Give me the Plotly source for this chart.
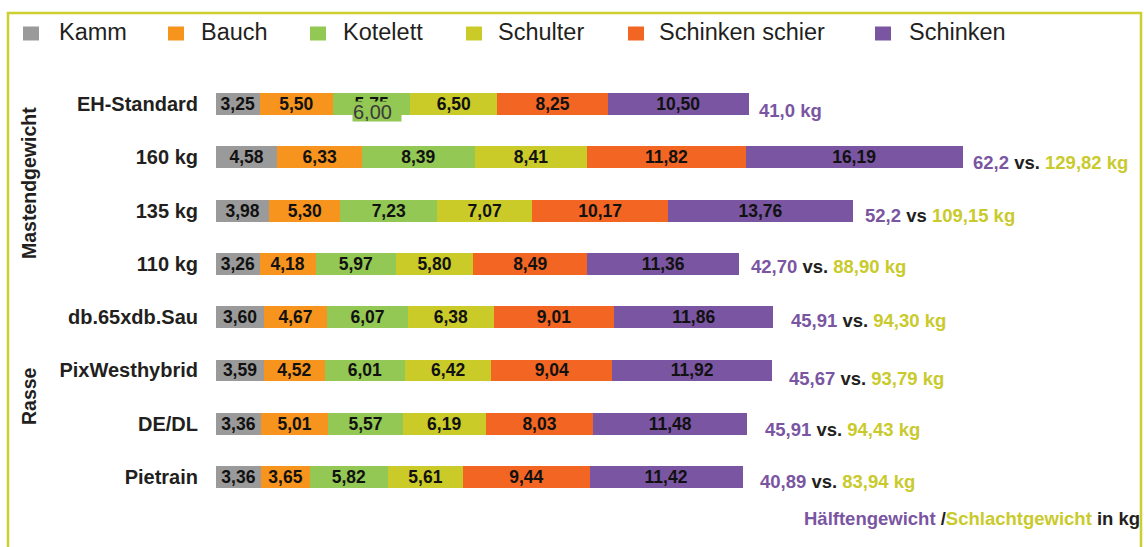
import plotly.graph_objects as go

# --- data -------------------------------------------------------------
categories = ["EH-Standard", "160 kg", "135 kg", "110 kg",
              "db.65xdb.Sau", "PixWesthybrid", "DE/DL", "Pietrain"]
series_names = ["Kamm", "Bauch", "Kotelett", "Schulter", "Schinken schier", "Schinken"]

kamm = [3.25, 4.58, 3.98, 3.26, 3.60, 3.59, 3.36, 3.36]
bauch = [5.50, 6.33, 5.30, 4.18, 4.67, 4.52, 5.01, 3.65]
kotelett = [5.75, 8.39, 7.23, 5.97, 6.07, 6.01, 5.57, 5.82]
schulter = [6.50, 8.41, 7.07, 5.80, 6.38, 6.42, 6.19, 5.61]
schinken_schier = [8.25, 11.82, 10.17, 8.49, 9.01, 9.04, 8.03, 9.44]
schinken = [10.50, 16.19, 13.76, 11.36, 11.86, 11.92, 11.48, 11.42]

# corrected Kotelett value pasted over the EH-Standard bar
kotelett_eh_corrected = 6.00

half_weight = ["41,0", "62,2", "52,2", "42,70", "45,91", "45,67", "45,91", "40,89"]
vs_word = [None, "vs.", "vs", "vs.", "vs.", "vs.", "vs.", "vs."]
carcass_weight = [None, "129,82", "109,15", "88,90", "94,30", "93,79", "94,43", "83,94"]

# --- styling ------------------------------------------------------------
colors = ["#9A9A9A", "#F7941D", "#92C853", "#CACB28", "#F26522", "#7A55A1"]
purple_txt = "#7A55A1"
yellow_txt = "#C9CA2B"
dark = "#231F20"
frame_col = "#CDCF2E"
FONT = "Liberation Sans, Arial, sans-serif"

W, H = 1144, 547
def px(x):
    return x / W
def py(y):
    return 1 - y / H

X0_PX = 216          # pixel position of x = 0
PX_PER_UNIT = 13.4
X_MAX = 68.0
ROW0_PX, ROW_STEP = 104.0, 53.29

values = [kamm, bauch, kotelett, schulter, schinken_schier, schinken]
totals = [sum(v[i] for v in values) for i in range(len(categories))]

fig = go.Figure()
for name, vals, col in zip(series_names, values, colors):
    fig.add_trace(go.Bar(
        y=categories, x=vals, name=name, orientation="h",
        marker=dict(color=col, line=dict(width=0)),
        width=0.41,
        texttemplate="<b>%{x:.2f}</b>",
        textposition="inside", insidetextanchor="middle",
        constraintext="none",
        textfont=dict(family=FONT, size=17.5, color="#111111"),
        showlegend=False, hoverinfo="skip",
    ))

annotations = []
shapes = []

# right-hand weight labels
xshift = [8, 8, 10, 10, 16, 15, 16, 15]
ydown = [7, 5, 5, 3, 3, 8, 6, 4]
for i, cat in enumerate(categories):
    if carcass_weight[i] is None:
        txt = f"<b><span style='color:{purple_txt}'>{half_weight[i]} kg</span></b>"
    else:
        txt = (f"<b><span style='color:{purple_txt}'>{half_weight[i]}</span> "
               f"<span style='color:{dark}'>{vs_word[i]}</span> "
               f"<span style='color:{yellow_txt}'>{carcass_weight[i]} kg</span></b>")
    annotations.append(dict(
        x=totals[i], y=cat, xref="x", yref="y", text=txt, showarrow=False,
        xanchor="left", yanchor="middle", xshift=xshift[i], yshift=-ydown[i],
        font=dict(family=FONT, size=18.5, color=dark),
    ))

# pasted correction box on the EH-Standard Kotelett segment
kot_mid = kamm[0] + bauch[0] + kotelett[0] / 2
annotations.append(dict(
    x=kot_mid, y=categories[0], xref="x", yref="y",
    text=f"{kotelett_eh_corrected:.2f}".replace(".", ","),
    showarrow=False, xanchor="center", yanchor="middle",
    xshift=5, yshift=-7.5, width=48, height=19, align="left", valign="middle",
    bgcolor=colors[2], borderpad=0,
    font=dict(family=FONT, size=20, color="#3A3A3A"),
))

# group labels on the left
for label, ymid in [("Mastendgewicht", 183), ("Rasse", 396)]:
    annotations.append(dict(
        x=px(29), y=py(ymid), xref="paper", yref="paper", text=f"<b>{label}</b>",
        showarrow=False, textangle=-90, xanchor="center", yanchor="middle",
        font=dict(family=FONT, size=19.5, color=dark),
    ))

# footer caption
annotations.append(dict(
    x=px(802), y=py(518), xref="paper", yref="paper", showarrow=False,
    xanchor="left", yanchor="middle",
    text=(f"<b><span style='color:{purple_txt}'>Hälftengewicht</span> "
          f"<span style='color:{dark}'>/</span>"
          f"<span style='color:{yellow_txt}'>Schlachtgewicht</span> "
          f"<span style='color:{dark}'>in kg</span></b>"),
    font=dict(family=FONT, size=18.5, color=dark),
))

# legend row
marker_left = [23, 168, 310, 466, 628, 875]
text_left = [57, 199, 341, 496, 657, 907]
for name, col, mx, tx in zip(series_names, colors, marker_left, text_left):
    shapes.append(dict(type="rect", xref="paper", yref="paper",
                       x0=px(mx), x1=px(mx + 16), y0=py(40.5), y1=py(26.5),
                       fillcolor=col, line=dict(width=0)))
    annotations.append(dict(
        x=px(tx), y=py(32), xref="paper", yref="paper", text=name,
        showarrow=False, xanchor="left", yanchor="middle",
        font=dict(family=FONT, size=23.5, color=dark),
    ))

# outer frame (open at the bottom edge of the page)
shapes.append(dict(type="rect", xref="paper", yref="paper",
                   x0=px(8), x1=px(1141), y0=py(570), y1=py(13),
                   line=dict(color=frame_col, width=2.5), fillcolor="rgba(0,0,0,0)"))

x_dom_end = (X0_PX + X_MAX * PX_PER_UNIT) / W
y_top_px = ROW0_PX - ROW_STEP / 2
y_bot_px = ROW0_PX + 7 * ROW_STEP + ROW_STEP / 2

fig.update_layout(
    width=W, height=H,
    margin=dict(l=0, r=0, t=0, b=0),
    paper_bgcolor="white", plot_bgcolor="white",
    barmode="stack", separators=",.",
    xaxis=dict(domain=[px(X0_PX), x_dom_end], range=[0, X_MAX],
               showgrid=False, zeroline=False, showticklabels=False, showline=False),
    yaxis=dict(domain=[py(y_bot_px), py(y_top_px)],
               type="category", categoryorder="array", categoryarray=categories,
               range=[7.5, -0.5], showgrid=False, zeroline=False, showline=False,
               ticks="", ticklabelstandoff=17,
               tickfont=dict(family=FONT, size=20, color=dark, weight="bold")),
    annotations=annotations,
    shapes=shapes,
)

fig.write_html("out.html")
